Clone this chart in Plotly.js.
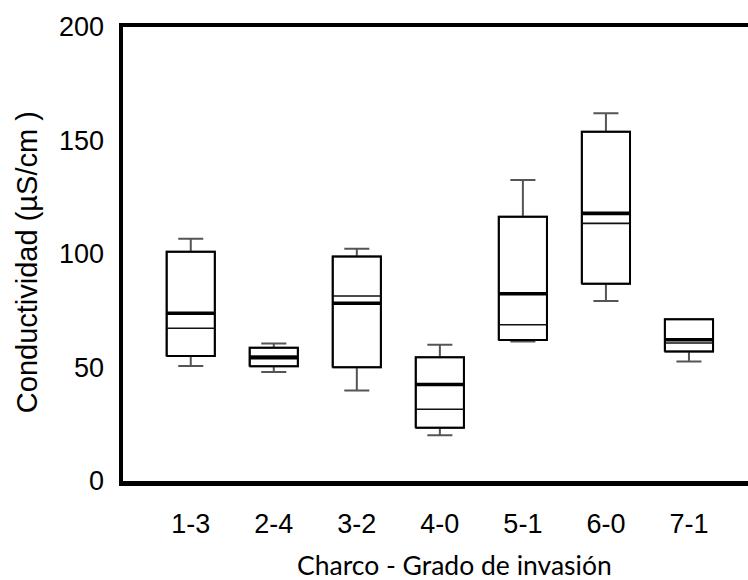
<!DOCTYPE html>
<html>
<head>
<meta charset="utf-8">
<script src="https://cdn.plot.ly/plotly-3.0.1.min.js"></script>
<style>
  html, body { margin: 0; padding: 0; background: #fff; }
  #chart { width: 748px; height: 580px; }
</style>
</head>
<body>
<div id="chart"></div>
<script>
// Conductivity per pond (charco) and invasion grade
const categories = ['1-3', '2-4', '3-2', '4-0', '5-1', '6-0', '7-1'];
const upperWhisker = [106.7, 60.6, 102.3, 60.0, 132.6, 162.0, 71.3];
const q3Values     = [101.0, 58.7, 98.9, 54.5, 116.4, 153.9, 71.3];
const medianValues = [73.9, 54.3, 78.3, 42.5, 82.5, 117.9, 62.2];
const meanValues   = [67.3, 55.0, 81.5, 31.6, 68.8, 113.5, 60.8];
const q1Values     = [55.1, 50.6, 50.1, 23.5, 62.1, 86.9, 57.0];
const lowerWhisker = [50.7, 48.0, 39.9, 20.1, 61.5, 79.3, 52.6];
const yTicks = [0, 50, 100, 150, 200];

const positions = categories.map((_, i) => i);
const boxWidth = 0.58;
const half = boxWidth / 2;

// horizontal segments across each box at the given values
function segments(values) {
  const xs = [], ys = [];
  values.forEach((v, i) => {
    xs.push(i - half, i + half, null);
    ys.push(v, v, null);
  });
  return { x: xs, y: ys };
}

// closed box outlines from q1 to q3
function outlines() {
  const xs = [], ys = [];
  q1Values.forEach((lo, i) => {
    const hi = q3Values[i];
    xs.push(i - half, i + half, i + half, i - half, i - half, null);
    ys.push(lo, lo, hi, hi, lo, null);
  });
  return { x: xs, y: ys };
}

const med = segments(medianValues);
const mn = segments(meanValues);
const box = outlines();

const traces = [
  {
    type: 'box',
    x: positions,
    q1: q1Values,
    median: medianValues,
    q3: q3Values,
    lowerfence: lowerWhisker,
    upperfence: upperWhisker,
    width: boxWidth,
    whiskerwidth: 0.52,
    fillcolor: 'rgba(0,0,0,0)',
    line: { color: '#555555', width: 2 },
    boxpoints: false,
    hoverinfo: 'skip',
    showlegend: false
  },
  {
    type: 'scatter', mode: 'lines',
    x: box.x, y: box.y,
    line: { color: '#000000', width: 2 },
    hoverinfo: 'skip', showlegend: false
  },
  {
    type: 'scatter', mode: 'lines',
    x: mn.x, y: mn.y,
    line: { color: '#111111', width: 1.6 },
    hoverinfo: 'skip', showlegend: false
  },
  {
    type: 'scatter', mode: 'lines',
    x: med.x, y: med.y,
    line: { color: '#000000', width: 3.6 },
    hoverinfo: 'skip', showlegend: false
  }
];

const sansFont = "'Liberation Sans', Arial, sans-serif";

const layout = {
  width: 748,
  height: 580,
  paper_bgcolor: '#ffffff',
  plot_bgcolor: '#ffffff',
  margin: { l: 123, r: 0, t: 27, b: 99, pad: 0 },
  showlegend: false,
  font: { family: sansFont, color: '#000000', size: 27 },
  xaxis: {
    range: [-0.816, 6.711],
    tickvals: positions,
    ticktext: categories,
    ticks: '',
    ticklabelstandoff: 15,
    showgrid: false,
    zeroline: false,
    showline: true,
    mirror: true,
    linecolor: '#000000',
    linewidth: 4.5,
    tickfont: { family: sansFont, size: 27, color: '#000000' }
  },
  yaxis: {
    range: [0, 200],
    tickvals: yTicks,
    ticks: '',
    ticklabelstandoff: 9,
    showgrid: false,
    zeroline: false,
    showline: true,
    mirror: false,
    linecolor: '#000000',
    linewidth: 4.5,
    tickfont: { family: sansFont, size: 27, color: '#000000' }
  },
  annotations: [
    {
      text: 'Conductividad (µS/cm )',
      xref: 'paper', yref: 'paper',
      x: -0.1536, y: 0.482,
      xanchor: 'center', yanchor: 'middle',
      textangle: -90,
      showarrow: false,
      font: { family: sansFont, size: 29, color: '#000000' }
    },
    {
      text: 'Charco - Grado de invasión',
      xref: 'paper', yref: 'paper',
      x: 0.5296, y: -0.185,
      xanchor: 'center', yanchor: 'middle',
      showarrow: false,
      font: { family: "Lato, 'Open Sans', sans-serif", size: 26.5, color: '#000000' }
    }
  ]
};

Plotly.newPlot('chart', traces, layout, { staticPlot: true, displayModeBar: false });
</script>
</body>
</html>
